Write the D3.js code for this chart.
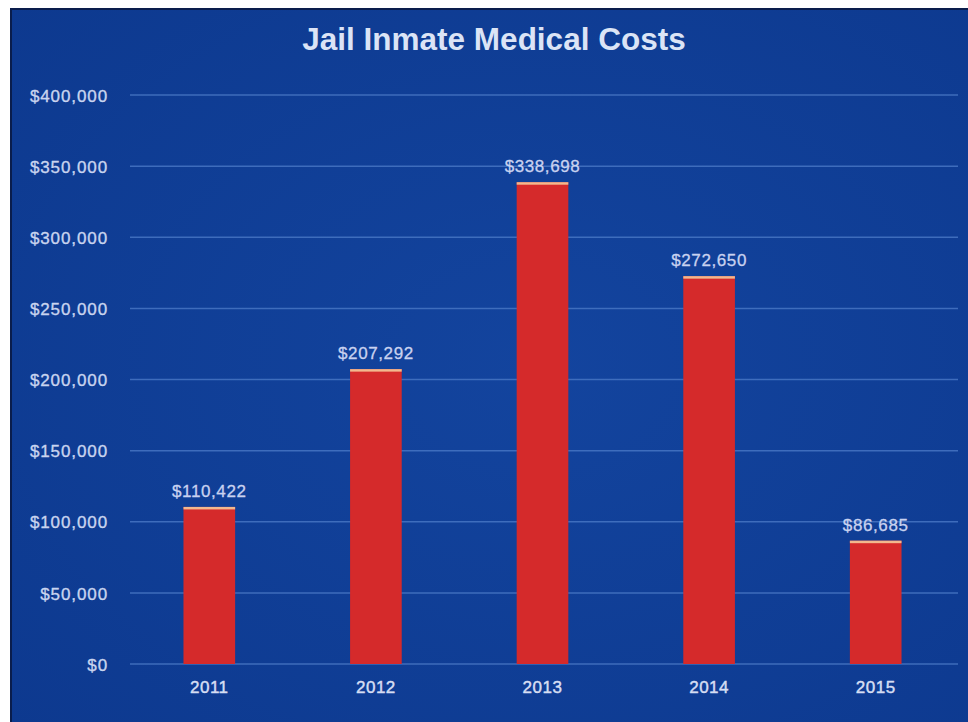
<!DOCTYPE html>
<html>
<head>
<meta charset="utf-8">
<script src="https://cdn.jsdelivr.net/npm/d3@7"></script>
<style>
  html, body { margin: 0; padding: 0; background: #ffffff; }
  svg { display: block; }
  text { font-family: "Liberation Sans", Arial, sans-serif; }
</style>
</head>
<body>
<svg id="chart" width="968" height="722"></svg>
<script>
// Annual medical costs for jail inmates
const years = ["2011", "2012", "2013", "2014", "2015"];
const costs = [110422, 207292, 338698, 272650, 86685];
const yTicks = [0, 50000, 100000, 150000, 200000, 250000, 300000, 350000, 400000];
const chartTitle = "Jail Inmate Medical Costs";

const W = 968, H = 722;
const plot = { left: 126, right: 959, top: 95, bottom: 664 };

const svg = d3.select("#chart");

// page + blue panel
svg.append("rect").attr("width", W).attr("height", H).attr("fill", "#ffffff");
const grad = svg.append("defs").append("radialGradient")
  .attr("id", "panelGrad").attr("cx", "55%").attr("cy", "50%").attr("r", "75%");
grad.append("stop").attr("offset", "0%").attr("stop-color", "#13449e");
grad.append("stop").attr("offset", "100%").attr("stop-color", "#0d398f");
svg.append("rect")
  .attr("x", 10).attr("y", 8).attr("width", W - 10).attr("height", H - 8)
  .attr("fill", "url(#panelGrad)");
svg.append("path")
  .attr("d", `M11,${H} V9 H${W}`)
  .attr("fill", "none").attr("stroke", "#0a1d4c").attr("stroke-width", 2);

// title
svg.append("text")
  .attr("x", 494).attr("y", 50)
  .attr("text-anchor", "middle")
  .attr("font-size", 31.5).attr("font-weight", "bold")
  .attr("fill", "#dbe4f6")
  .text(chartTitle);

// scales
const x = d3.scaleBand().domain(years).range([plot.left, plot.right])
  .paddingInner(0.69).paddingOuter(0.345);
const y = d3.scaleLinear().domain([0, 400000]).range([plot.bottom, plot.top]);
const money = v => "$" + d3.format(",")(v);

// gridlines
svg.append("g").selectAll("line").data(yTicks).join("line")
  .attr("x1", 130).attr("x2", 958)
  .attr("y1", d => y(d)).attr("y2", d => y(d))
  .attr("stroke", "#4a78c6").attr("stroke-width", 1.5).attr("stroke-opacity", 0.8);

// y axis labels
const yAxis = svg.append("g")
  .attr("transform", `translate(${108},0)`)
  .call(d3.axisLeft(y).tickValues(yTicks).tickFormat(money).tickSize(0).tickPadding(0));
yAxis.select(".domain").remove();
yAxis.selectAll("text")
  .attr("font-family", "'Liberation Sans', Arial, sans-serif")
  .attr("font-size", 17).attr("fill", "#c9d4ef")
  .attr("stroke", "#c9d4ef").attr("stroke-width", 0.35)
  .attr("letter-spacing", 0.9)
  .attr("dy", "0.36em");

// bars
const bars = svg.append("g").selectAll("g").data(years).join("g");
bars.append("rect")
  .attr("x", d => x(d)).attr("width", x.bandwidth())
  .attr("y", (d, i) => y(costs[i]))
  .attr("height", (d, i) => y(0) - y(costs[i]))
  .attr("fill", "#d52a2b");
bars.append("rect")
  .attr("x", d => x(d)).attr("width", x.bandwidth())
  .attr("y", (d, i) => y(costs[i]))
  .attr("height", 2.5)
  .attr("fill", "#f2b88e");

// value labels
bars.append("text")
  .attr("x", d => x(d) + x.bandwidth() / 2)
  .attr("y", (d, i) => y(costs[i]) - 10)
  .attr("text-anchor", "middle")
  .attr("font-size", 17).attr("letter-spacing", 0.6)
  .attr("fill", "#c9d2f0")
  .attr("stroke", "#c9d2f0").attr("stroke-width", 0.3)
  .text((d, i) => money(costs[i]));

// x axis labels
const xAxis = svg.append("g")
  .attr("transform", `translate(0,${plot.bottom})`)
  .call(d3.axisBottom(x).tickSize(0).tickPadding(0));
xAxis.select(".domain").remove();
xAxis.selectAll("text")
  .attr("font-family", "'Liberation Sans', Arial, sans-serif")
  .attr("font-size", 17).attr("fill", "#d6def3")
  .attr("stroke", "#d6def3").attr("stroke-width", 0.45)
  .attr("letter-spacing", 0.5)
  .attr("dy", null).attr("y", 29);
</script>
</body>
</html>
